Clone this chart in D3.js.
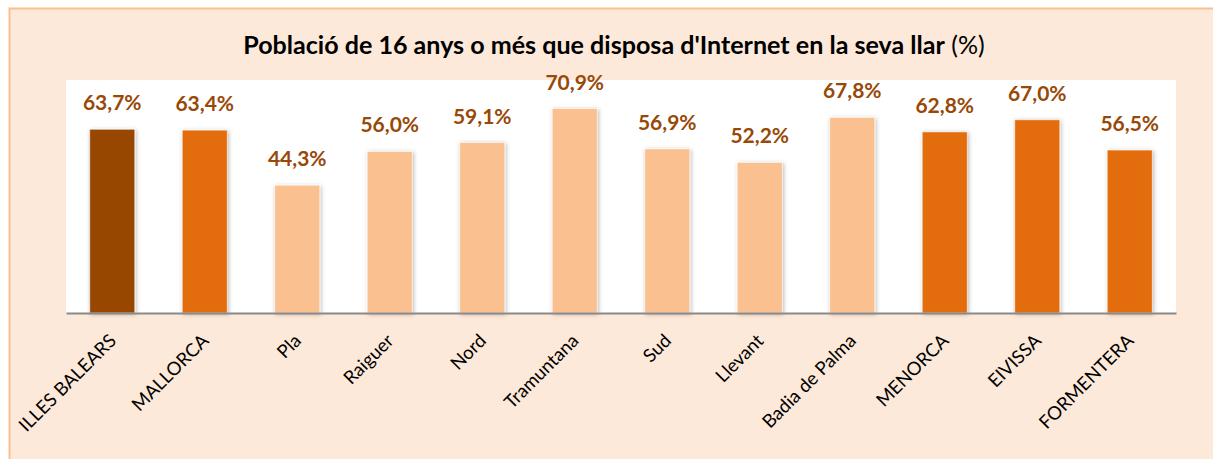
<!DOCTYPE html>
<html><head><meta charset="utf-8">
<script src="https://cdn.jsdelivr.net/npm/d3@7"></script>
<style>body{margin:0;background:#fff;}svg{display:block;}</style>
</head><body>
<svg id="c" width="1213" height="459"></svg>
<script>
const categories = ["ILLES BALEARS","MALLORCA","Pla","Raiguer","Nord","Tramuntana","Sud","Llevant","Badia de Palma","MENORCA","EIVISSA","FORMENTERA"];
const values = [63.7,63.4,44.3,56.0,59.1,70.9,56.9,52.2,67.8,62.8,67.0,56.5];
const levels = ["total","island","comarca","comarca","comarca","comarca","comarca","comarca","comarca","island","island","island"];
const titleBold = "Població de 16 anys o més que disposa d'Internet en la seva llar";
const titleNormal = " (%)";

const colorMap = {total:"#974706", island:"#E36C0A", comarca:"#FAC090"};
const svg = d3.select("#c");
const W = 1213, H = 459;

// outer background
svg.append("rect").attr("x",9.5).attr("y",8.5).attr("width",W+20).attr("height",H+20)
  .attr("fill","#FDE9D9").attr("stroke","#FAC090").attr("stroke-width",2);

const plot = {x0:66, x1:1176, y0:80, y1:313};
svg.append("rect").attr("x",plot.x0).attr("y",plot.y0).attr("width",plot.x1-plot.x0).attr("height",plot.y1-plot.y0).attr("fill","#fff");

const defs = svg.append("defs");
const f = defs.append("filter").attr("id","sh").attr("x","-30%").attr("y","-10%").attr("width","160%").attr("height","130%");
f.append("feDropShadow").attr("dx",1).attr("dy",1).attr("stdDeviation",2).attr("flood-color","#000").attr("flood-opacity",0.3);

const x = d3.scaleBand().domain(categories).range([plot.x0,plot.x1]).paddingInner(0.513).paddingOuter(0.2565);
const y = d3.scaleLinear().domain([0,80]).range([plot.y1, plot.y1-80*2.884]);

const data = categories.map((c,i)=>({c, v:values[i], l:levels[i]}));

svg.append("g").selectAll("rect").data(data).join("rect")
  .attr("x",d=>x(d.c)).attr("width",x.bandwidth())
  .attr("y",d=>y(d.v)).attr("height",d=>y(0)-y(d.v))
  .attr("fill",d=>colorMap[d.l])
  .attr("stroke","#ffffff").attr("stroke-opacity",0.55).attr("stroke-width",1)
  .attr("filter","url(#sh)");

// axis line
const xAxis = d3.axisBottom(x).tickSize(0).tickFormat("");
const ax = svg.append("g").attr("transform",`translate(0,${plot.y1})`).call(xAxis);
ax.select(".domain").attr("stroke","#898989").attr("stroke-width",2);

// value labels
const fmt = v => d3.format(".1f")(v).replace(".",",") + "%";
svg.append("g").selectAll("text").data(data).join("text")
  .attr("x",d=>x(d.c)+x.bandwidth()/2).attr("y",d=>y(d.v)-19)
  .attr("text-anchor","middle")
  .attr("font-family","Lato, 'Open Sans', sans-serif").attr("font-weight","bold").attr("font-size",21)
  .attr("fill","#984807").text(d=>fmt(d.v));

// category labels
svg.append("g").selectAll("text").data(categories).join("text")
  .attr("transform",d=>`translate(${x(d)+x.bandwidth()/2+5},${plot.y1+29}) rotate(-45)`)
  .attr("text-anchor","end")
  .attr("font-family","Lato, 'Open Sans', sans-serif").attr("font-size",18.5)
  .attr("fill","#000").text(d=>d);

// title
const t = svg.append("text").attr("x",614).attr("y",54).attr("text-anchor","middle")
  .attr("font-family","Lato, 'Open Sans', sans-serif").attr("font-size",22).attr("fill","#000");
t.append("tspan").attr("font-weight","bold").text(titleBold);
t.append("tspan").attr("font-weight","normal").text(titleNormal);
const len = t.node().getComputedTextLength();
const target = 742;
t.attr("font-size", 22*target/len);
</script>
</body></html>
